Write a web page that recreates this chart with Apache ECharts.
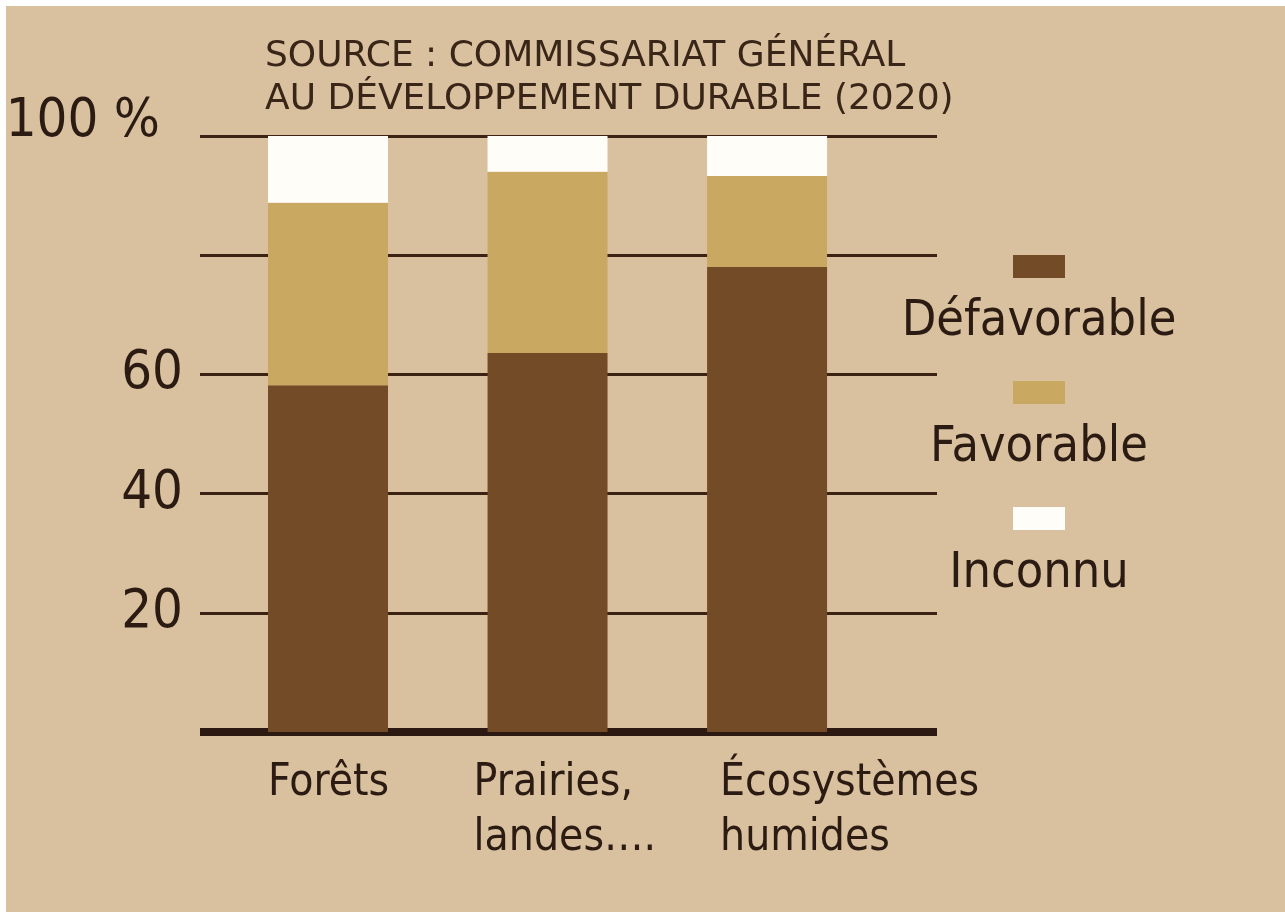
<!DOCTYPE html>
<html lang="fr" style="height: 100%">
<head>
    <meta charset="utf-8">
    <title>Etat de conservation des habitats</title>
    <script src="https://cdn.jsdelivr.net/npm/echarts@6/dist/echarts.min.js"></script>
</head>
<body style="height: 100%; margin: 0; background: #ffffff">
    <!-- bord blanc en haut et a gauche comme sur l'original -->
    <div id="main" style="position: absolute; left: 6px; top: 6px; width: 1279px; height: 906px"></div>
    <script type="text/javascript">

        // données (en %)
        var categories   = ['Forêts', 'Prairies,\nlandes….', 'Écosystèmes\nhumides'];
        var defavorable  = [58.2, 63.6, 78.0];
        var favorable    = [30.6, 30.4, 15.3];
        var inconnu      = [11.2, 6.0, 6.7];
        var seriesNames  = ['Défavorable', 'Favorable', 'Inconnu'];
        var yTickValues  = [0, 20, 40, 60, 80, 100];
        var yTickLabels  = ['', '20', '40', '60', '', '100 %'];

        var colors   = ['#744b27', '#c9a862', '#fffdf8'];
        var textCol  = '#2b1b12';
        var narrow   = '"Liberation Sans Narrow", "Arial Narrow", "DejaVu Sans Condensed", sans-serif';
        // largeur des boites de libellés x (calage a gauche)
        var labelBoxW = [120, 148, 94];

        var myChart = echarts.init(document.getElementById('main'));

        // [valeur, position] : la valeur en premier pour que l'empilement se fasse sur y
        function toPoints(arr) {
            return arr.map(function (v, i) { return [v, i]; });
        }

        var legendRich = {
            t: { fontFamily: narrow, fontSize: 50, color: textCol, width: 280, align: 'center', lineHeight: 83 }
        };
        colors.forEach(function (c, i) {
            legendRich['b' + i] = { width: 52, height: 23, backgroundColor: c, align: 'center', lineHeight: 28 };
        });

        var xRich = {};
        labelBoxW.forEach(function (w, i) {
            xRich['l' + i] = { fontFamily: narrow, fontSize: 44, color: textCol, width: w, align: 'left', lineHeight: 55 };
        });

        function barSeries(k, values) {
            return {
                name: seriesNames[k],
                type: 'bar',
                stack: 'total',
                barWidth: 120,
                dimensions: ['pct', 'pos'],
                encode: { x: 'pos', y: 'pct' },
                data: toPoints(values),
                itemStyle: { color: colors[k] }
            };
        }

        var option = {
            backgroundColor: '#d9c19f',
            animation: false,
            title: {
                text: 'SOURCE : COMMISSARIAT GÉNÉRAL\nAU DÉVELOPPEMENT DURABLE (2020)',
                left: 259,
                top: 29,
                padding: 0,
                textStyle: {
                    fontFamily: '"DejaVu Sans", sans-serif',
                    fontWeight: 'normal',
                    fontSize: 36,
                    lineHeight: 43,
                    color: '#3a2618'
                }
            },
            legend: {
                orient: 'vertical',
                left: 888,
                top: 249,
                padding: 0,
                itemGap: 34,
                itemWidth: 0,
                itemHeight: 0,
                selectedMode: false,
                data: seriesNames,
                formatter: function (name) {
                    var i = seriesNames.indexOf(name);
                    return '{b' + i + '|}\n{t|' + name + '}';
                },
                textStyle: { rich: legendRich }
            },
            grid: {
                left: 194,
                right: 348,
                top: 130,
                bottom: 180,
                containLabel: false,
                outerBoundsMode: 'none'
            },
            xAxis: {
                type: 'value',
                min: -0.583,
                max: 2.774,
                splitLine: { show: false },
                axisTick: { show: false },
                axisLine: { show: true, lineStyle: { color: '#2c1a12', width: 8, cap: 'butt' } },
                axisLabel: {
                    customValues: [0, 1, 2],
                    margin: 24,
                    align: 'center',
                    verticalAlign: 'top',
                    formatter: function (v) {
                        var i = Math.round(v);
                        return '{l' + i + '|' + categories[i] + '}';
                    },
                    rich: xRich
                }
            },
            yAxis: {
                type: 'value',
                min: 0,
                max: 100,
                interval: 20,
                axisLine: { show: false },
                axisTick: { show: false },
                splitLine: { show: true, lineStyle: { color: '#3b2314', width: 3 } },
                axisLabel: {
                    margin: 17,
                    formatter: function (v) {
                        var s = yTickLabels[yTickValues.indexOf(v)];
                        if (!s) return '';
                        return v === 100 ? '{p|' + s + '}' : '{n|' + s + '}';
                    },
                    rich: {
                        n: { fontFamily: narrow, fontSize: 54, color: textCol },
                        p: { fontFamily: narrow, fontSize: 54, color: textCol, padding: [0, 23, 28, 0] }
                    }
                }
            },
            series: [
                barSeries(0, defavorable),
                barSeries(1, favorable),
                barSeries(2, inconnu)
            ]
        };

        myChart.setOption(option);

        window.onresize = function () {
            myChart.resize();
        };
    </script>
</body>
</html>
